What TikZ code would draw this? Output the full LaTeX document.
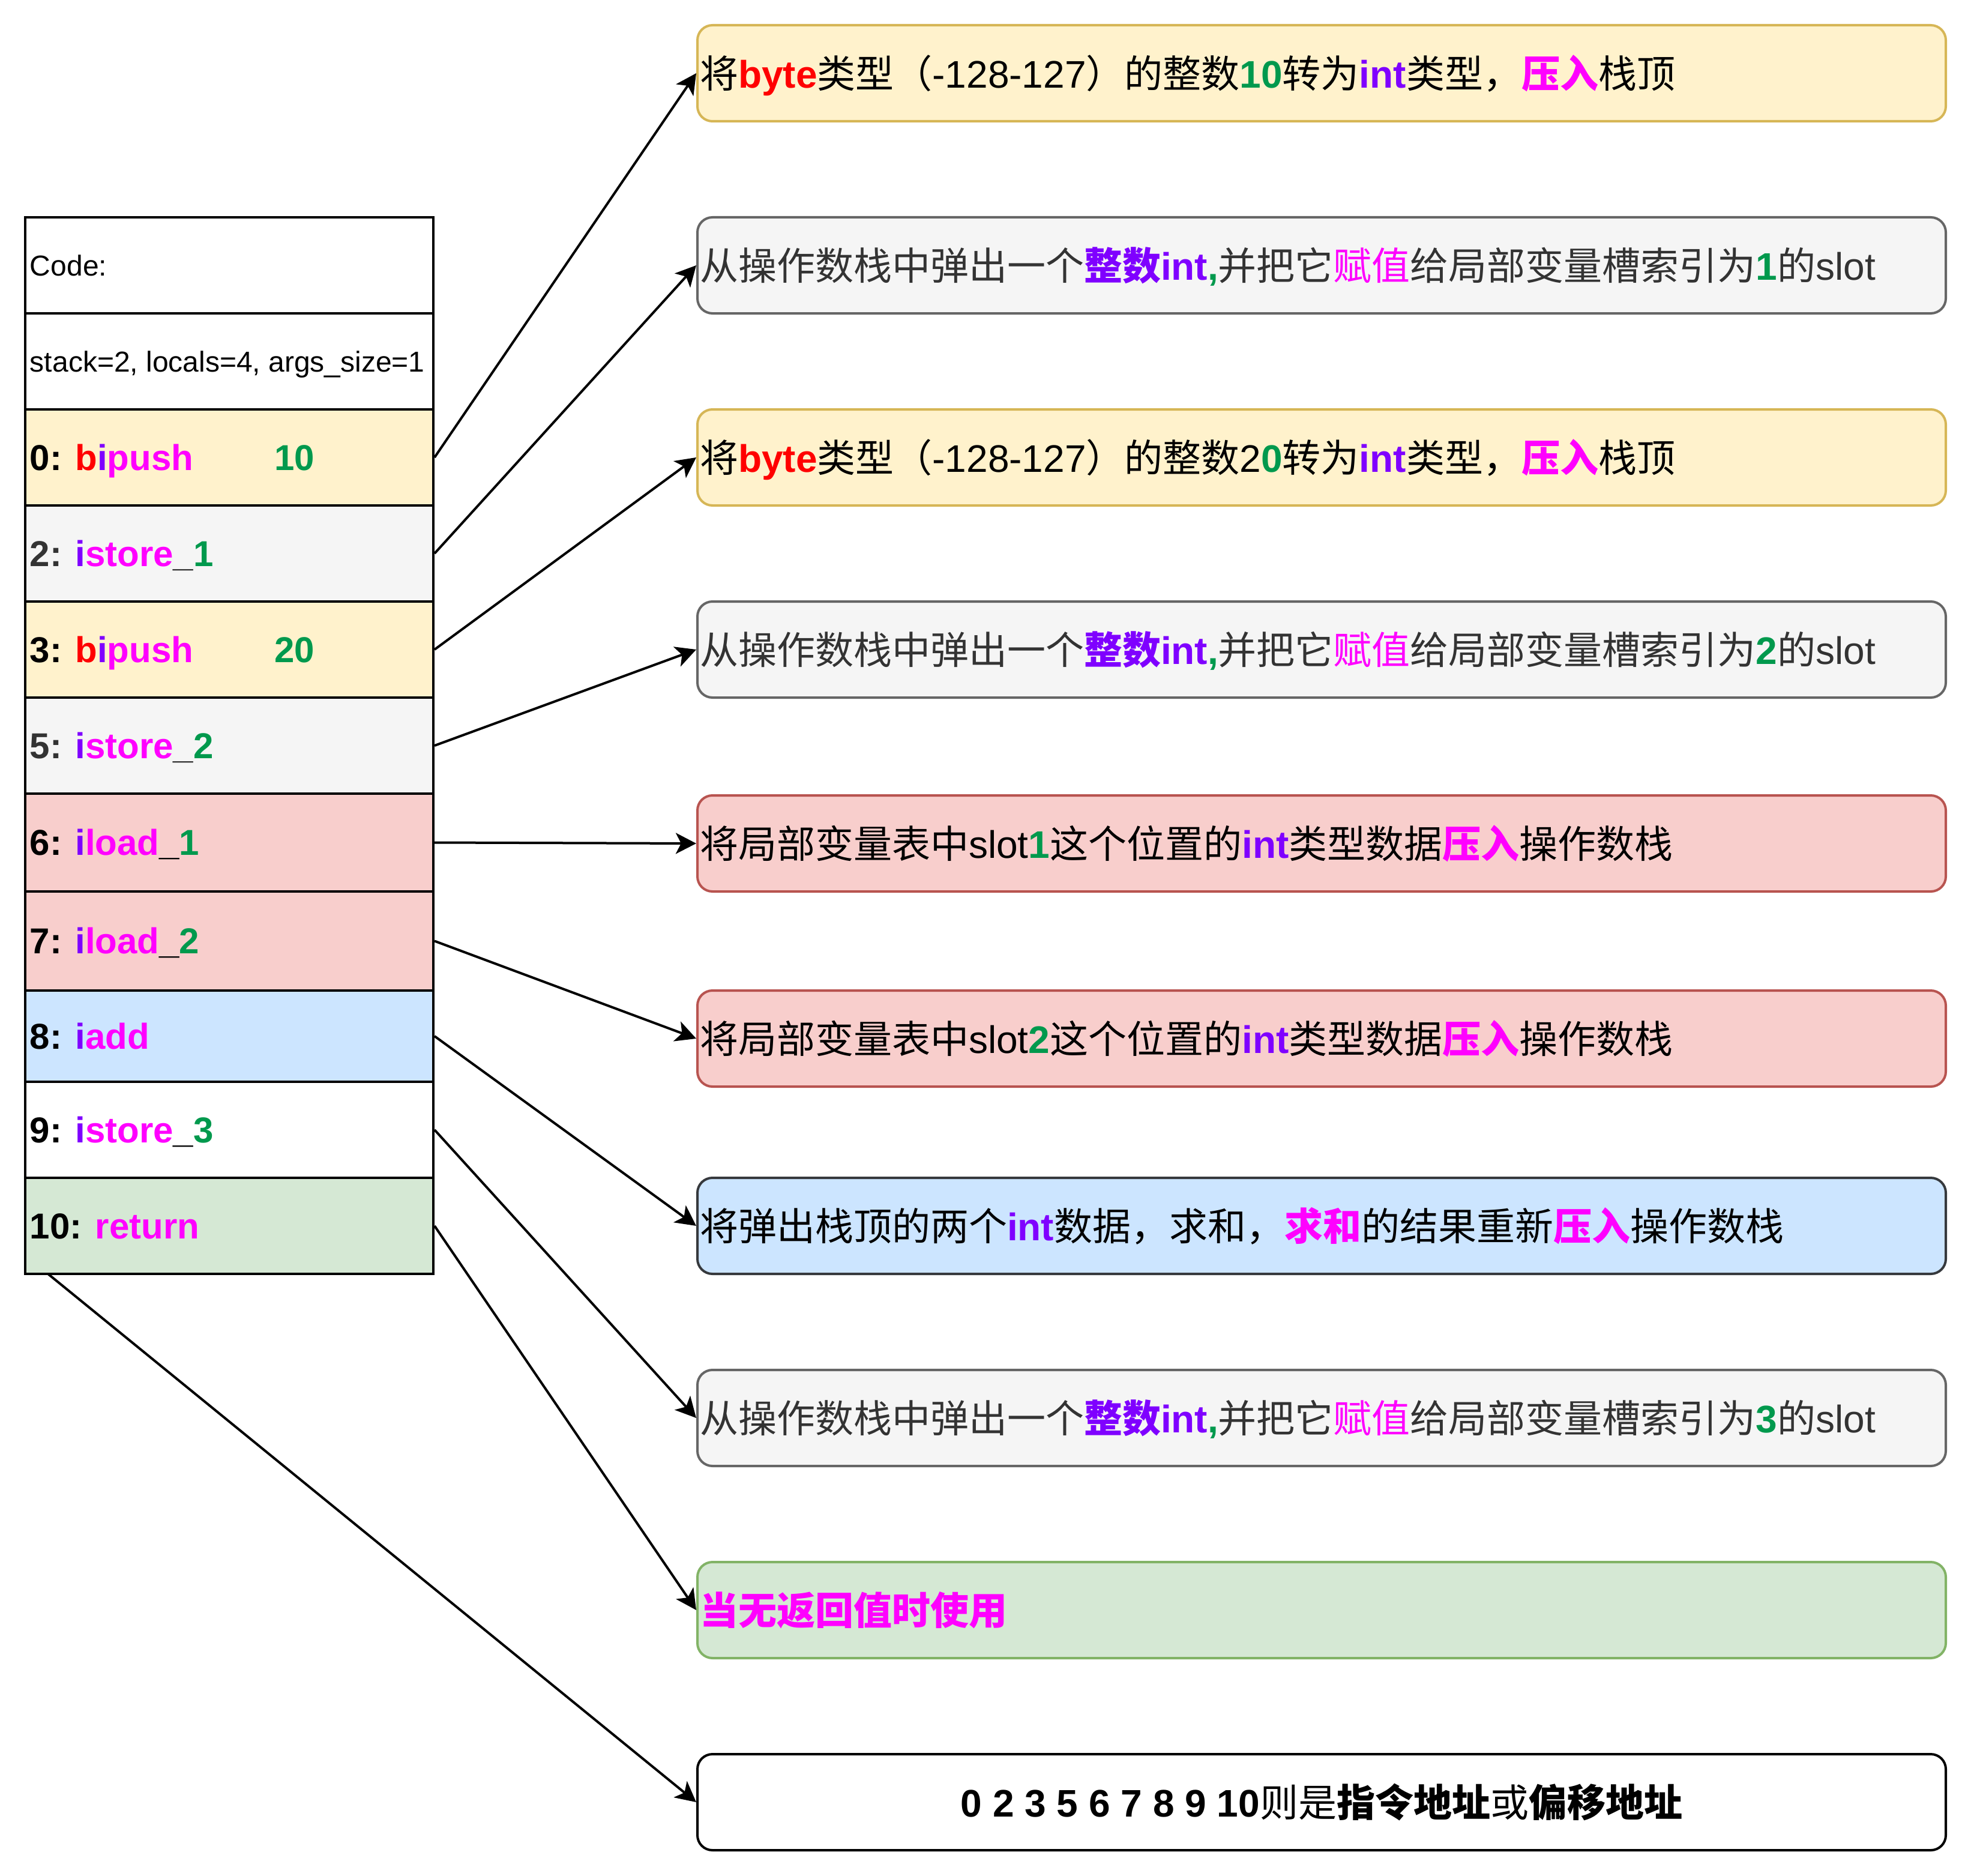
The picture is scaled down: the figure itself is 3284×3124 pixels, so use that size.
\documentclass[tikz,border=0pt]{standalone}
\usepackage{fontspec}
\setmainfont{Liberation Sans}
\newfontfamily\cjk{Noto Sans CJK SC}
\usetikzlibrary{arrows.meta}
\definecolor{cpur}{HTML}{7F00FF}
\definecolor{cmag}{HTML}{FF00FF}
\definecolor{cgrn}{HTML}{00994D}
\definecolor{cred}{HTML}{FF0000}
\definecolor{cdk}{HTML}{333333}
\definecolor{fyel}{HTML}{FFF2CC}
\definecolor{syel}{HTML}{D6B656}
\definecolor{fgry}{HTML}{F5F5F5}
\definecolor{sgry}{HTML}{666666}
\definecolor{fred}{HTML}{F8CECC}
\definecolor{sred}{HTML}{B85450}
\definecolor{fblu}{HTML}{CCE5FF}
\definecolor{sblu}{HTML}{36393D}
\definecolor{fgrn}{HTML}{D5E8D4}
\definecolor{sgrn}{HTML}{82B366}
\newcommand\Z[1]{{\cjk #1}}
\newcommand\ZB[1]{{\cjk\bfseries #1}}
\newcommand\RL[1]{\makebox[166pt][l]{#1}}
\newcommand\BL[1]{\makebox[518pt][l]{#1}}
\newcommand\BC[1]{\makebox[518pt][c]{#1}}
\begin{document}
\begin{tikzpicture}[x=0.25pt,y=-0.25pt,
  row/.style={draw=black, line width=1pt, minimum width=170pt, minimum height=40pt,
    inner xsep=2pt, inner ysep=0pt,
    font=\fontsize{15pt}{18pt}\selectfont\bfseries, text height=10.74pt, text depth=0pt},
  hrow/.style={row, font=\fontsize{12pt}{14pt}\selectfont, text height=8.6pt},
  box/.style={draw, rounded corners=6.25pt, line width=1pt, minimum width=520pt,
    minimum height=40pt, inner xsep=1pt, inner ysep=0pt,
    font=\fontsize{16pt}{19pt}\selectfont, text height=14.08pt, text depth=1.92pt},
  arr/.style={-{Stealth[length=8.5pt,width=8.7pt,inset=2.2pt]}, line width=1pt}
]
\useasboundingbox (0,0) rectangle (3284,3124);

% table rows
\node[hrow, fill=white] (rc) at (382,442) {\RL{Code:}};
\node[hrow, fill=white] (rs) at (382,602) {\RL{stack=2, locals=4, args\_size=1}};
\node[row, fill=fyel] (r0) at (382,762) {\RL{0: \textcolor{cred}{b}\textcolor{cpur}{i}\textcolor{cmag}{push}\hspace{33.75pt}\textcolor{cgrn}{10}}};
\node[row, fill=fgry, text=cdk] (r2) at (382,922) {\RL{2: \textcolor{cpur}{i}\textcolor{cmag}{store}\_\textcolor{cgrn}{1}}};
\node[row, fill=fyel] (r3) at (382,1082) {\RL{3: \textcolor{cred}{b}\textcolor{cpur}{i}\textcolor{cmag}{push}\hspace{33.75pt}\textcolor{cgrn}{20}}};
\node[row, fill=fgry, text=cdk] (r5) at (382,1242) {\RL{5: \textcolor{cpur}{i}\textcolor{cmag}{store}\_\textcolor{cgrn}{2}}};
\node[row, fill=fred, minimum height=40.75pt] (r6) at (382,1403.5) {\RL{6: \textcolor{cpur}{i}\textcolor{cmag}{load}\_\textcolor{cgrn}{1}}};
\node[row, fill=fred, minimum height=41.25pt] (r7) at (382,1567.5) {\RL{7: \textcolor{cpur}{i}\textcolor{cmag}{load}\_\textcolor{cgrn}{2}}};
\node[row, fill=fblu, minimum height=38pt] (r8) at (382,1726) {\RL{8: \textcolor{cpur}{i}\textcolor{cmag}{add}}};
\node[row, fill=white] (r9) at (382,1882) {\RL{9: \textcolor{cpur}{i}\textcolor{cmag}{store}\_\textcolor{cgrn}{3}}};
\node[row, fill=fgrn] (r10) at (382,2042) {\RL{10: \textcolor{cmag}{return}}};
\coordinate (tb) at (80,2122);

% right boxes
\node[box, fill=fyel, draw=syel] (b1) at (2202,122) {\BL{\Z{将}\textcolor{cred}{\bfseries byte}\Z{类型（}-128-127\Z{）的整数}\textcolor{cgrn}{\bfseries 10}\Z{转为}\textcolor{cpur}{\bfseries int}\Z{类型，}\textcolor{cmag}{\ZB{压入}}\Z{栈顶}}};
\node[box, fill=fgry, draw=sgry, text=cdk] (b2) at (2202,442) {\BL{\Z{从操作数栈中弹出一个}\textcolor{cpur}{\ZB{整数}\bfseries int}\textcolor{cgrn}{\bfseries ,}\Z{并把它}\textcolor{cmag}{\Z{赋值}}\Z{给局部变量槽索引为}\textcolor{cgrn}{\bfseries 1}\Z{的}slot}};
\node[box, fill=fyel, draw=syel] (b3) at (2202,762) {\BL{\Z{将}\textcolor{cred}{\bfseries byte}\Z{类型（}-128-127\Z{）的整数}2\textcolor{cgrn}{\bfseries 0}\Z{转为}\textcolor{cpur}{\bfseries int}\Z{类型，}\textcolor{cmag}{\ZB{压入}}\Z{栈顶}}};
\node[box, fill=fgry, draw=sgry, text=cdk] (b4) at (2202,1082) {\BL{\Z{从操作数栈中弹出一个}\textcolor{cpur}{\ZB{整数}\bfseries int}\textcolor{cgrn}{\bfseries ,}\Z{并把它}\textcolor{cmag}{\Z{赋值}}\Z{给局部变量槽索引为}\textcolor{cgrn}{\bfseries 2}\Z{的}slot}};
\node[box, fill=fred, draw=sred] (b5) at (2202,1405) {\BL{\Z{将局部变量表中}slot\textcolor{cgrn}{\bfseries 1}\Z{这个位置的}\textcolor{cpur}{\bfseries int}\Z{类型数据}\textcolor{cmag}{\ZB{压入}}\Z{操作数栈}}};
\node[box, fill=fred, draw=sred] (b6) at (2202,1730) {\BL{\Z{将局部变量表中}slot\textcolor{cgrn}{\bfseries 2}\Z{这个位置的}\textcolor{cpur}{\bfseries int}\Z{类型数据}\textcolor{cmag}{\ZB{压入}}\Z{操作数栈}}};
\node[box, fill=fblu, draw=sblu] (b7) at (2202,2042) {\BL{\Z{将弹出栈顶的两个}\textcolor{cpur}{\bfseries int}\Z{数据，求和，}\textcolor{cmag}{\ZB{求和}}\Z{的结果重新}\textcolor{cmag}{\ZB{压入}}\Z{操作数栈}}};
\node[box, fill=fgry, draw=sgry, text=cdk] (b8) at (2202,2362) {\BL{\Z{从操作数栈中弹出一个}\textcolor{cpur}{\ZB{整数}\bfseries int}\textcolor{cgrn}{\bfseries ,}\Z{并把它}\textcolor{cmag}{\Z{赋值}}\Z{给局部变量槽索引为}\textcolor{cgrn}{\bfseries 3}\Z{的}slot}};
\node[box, fill=fgrn, draw=sgrn] (b9) at (2202,2682) {\BL{\textcolor{cmag}{\ZB{当无返回值时使用}}}};
\node[box, fill=white, draw=black] (b10) at (2202,3002) {\BC{{\bfseries 0 2 3 5 6 7 8 9 10}\Z{则是}\ZB{指令地址}\Z{或}\ZB{偏移地址}}};

% connectors
\draw[arr] (r0.east) -- (b1.west);
\draw[arr] (r2.east) -- (b2.west);
\draw[arr] (r3.east) -- (b3.west);
\draw[arr] (r5.east) -- (b4.west);
\draw[arr] (r6.east) -- (b5.west);
\draw[arr] (r7.east) -- (b6.west);
\draw[arr] (r8.east) -- (b7.west);
\draw[arr] (r9.east) -- (b8.west);
\draw[arr] (r10.east) -- (b9.west);
\draw[arr] (tb) -- (b10.west);
\end{tikzpicture}
\end{document}
